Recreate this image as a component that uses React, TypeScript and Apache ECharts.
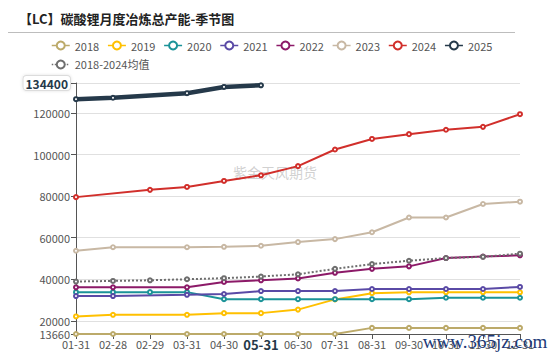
import React, { useEffect, useRef } from "react";
import * as echarts from "echarts";

const categories = ["01-31", "02-28", "02-29", "03-31", "04-30", "05-31", "06-30", "07-31", "08-31", "09-30", "10-31", "11-30", "12-31"];

const s2018 = [13660, 13660, null, 13660, 13660, 13660, 13660, 13660, 16600, 16600, 16600, 16600, 16600];
const s2019 = [22100, 22900, null, 22900, 23700, 23700, 25400, 30300, 33300, 33700, 33700, 33700, 33700];
const s2020 = [33800, 33800, 33800, 33800, 30400, 30400, 30400, 30400, 30400, 30400, 31100, 31100, 31100];
const s2021 = [31900, 31900, null, 32500, 32900, 34300, 34300, 34300, 35300, 35300, 35300, 35300, 36300];
const s2022 = [36100, 36100, null, 36100, 38700, 39500, 40400, 43100, 45000, 46200, 50200, 50900, 51500];
const s2023 = [53700, 55400, null, 55400, 55600, 56100, 57900, 59300, 62600, 69700, 69700, 76200, 77300];
const s2024 = [79500, null, 83000, 84400, 87300, 90000, 94400, 102400, 107500, 109800, 111900, 113300, 119400];
const s2025 = [126600, 127300, null, 129500, 132500, 133300, null, null, null, null, null, null, null];
const sAvg = [38900, 39200, 39500, 40000, 40500, 41300, 42400, 45000, 47300, 48900, 50200, 50800, 52300];

const yMin = 13660;
const yMax = 134400;
const highlightCategory = "05-31";

const seriesDefs = [
  { name: "2018", data: s2018, color: "#bcaa6a", width: 2 },
  { name: "2019", data: s2019, color: "#ffc000", width: 2 },
  { name: "2020", data: s2020, color: "#1b9398", width: 2 },
  { name: "2021", data: s2021, color: "#5a4aa6", width: 2 },
  { name: "2022", data: s2022, color: "#8c1a68", width: 2 },
  { name: "2023", data: s2023, color: "#c8b8a4", width: 2 },
  { name: "2024", data: s2024, color: "#d12f2b", width: 2 },
  { name: "2025", data: s2025, color: "#25394a", width: 4.5 },
  { name: "2018-2024均值", data: sAvg, color: "#6e6e6e", width: 2, dotted: true },
];

export default function App() {
  const ref = useRef<HTMLDivElement>(null);
  useEffect(() => {
    if (!ref.current) return;
    document.body.style.margin = "0";
    const chart = echarts.init(ref.current, null, { renderer: "svg" });
    const font = "'Noto Sans CJK SC', 'Noto Sans', sans-serif";
    chart.setOption({
      animation: false,
      textStyle: { fontFamily: font },
      title: {
        text: "【LC】碳酸锂月度冶炼总产能-季节图",
        left: 14,
        top: 7,
        textStyle: { fontSize: 13, fontWeight: "bold", color: "#222", fontFamily: font },
      },
      graphic: [
        {
          type: "line",
          shape: { x1: 8, y1: 32.5, x2: 515, y2: 32.5 },
          style: { stroke: "#bdbdbd", lineWidth: 1 },
        },
        {
          type: "text",
          x: 275,
          y: 172,
          style: {
            text: "紫金天风期货",
            fontSize: 14,
            fill: "rgba(170,170,170,0.55)",
            fontFamily: font,
            align: "center",
            verticalAlign: "middle",
          },
        },
        {
          type: "text",
          x: 485,
          y: 341,
          z: 100,
          style: {
            text: "www.365jz.com",
            fontSize: 19,
            fill: "#1c3a78",
            fontFamily: "'Liberation Serif', serif",
            align: "center",
            verticalAlign: "middle",
          },
        },
      ],
      legend: {
        left: 46,
        top: 35,
        width: 460,
        itemWidth: 18,
        itemHeight: 10,
        itemGap: 8,
        lineStyle: { width: 1.5 },
        itemStyle: { borderWidth: 1.2 },
        textStyle: { fontSize: 11, color: "#555", fontFamily: font },
        data: seriesDefs.map((s) => s.name),
      },
      grid: { left: 76, right: 30, top: 83, bottom: 21, containLabel: false },
      xAxis: {
        type: "category",
        data: categories,
        boundaryGap: false,
        axisLine: { lineStyle: { color: "#555" } },
        axisTick: { show: true, lineStyle: { color: "#555" } },
        axisLabel: {
          interval: 0,
          fontSize: 11,
          color: "#555",
          margin: 4,
          formatter: (v: string) => (v === highlightCategory ? "{hl|" + v + "}" : v),
          rich: {
            hl: { fontSize: 13, fontWeight: "bold", color: "#25394a", fontFamily: font },
          },
        },
        splitLine: { show: false },
      },
      yAxis: {
        type: "value",
        min: yMin,
        max: yMax,
        axisLine: { show: true, lineStyle: { color: "#555" } },
        axisTick: { show: true, lineStyle: { color: "#555" } },
        axisLabel: {
          fontSize: 11,
          color: "#555",
          margin: 6,
          formatter: (v: number) => (v === yMax ? "{mx|" + v + "}" : String(v)),
          rich: {
            mx: {
              fontSize: 12,
              fontWeight: "bold",
              color: "#25394a",
              backgroundColor: "#fff",
              borderColor: "#dcdcdc",
              borderWidth: 1,
              borderRadius: 3,
              padding: [1, 2, 1, 2],
              shadowColor: "rgba(0,0,0,0.12)",
              shadowBlur: 3,
              fontFamily: font,
            },
          },
        },
        splitLine: { show: true, lineStyle: { color: "#e0e0e0" } },
      },
      series: seriesDefs.map((s) => ({
        name: s.name,
        type: "line",
        data: s.data,
        connectNulls: true,
        symbol: "emptyCircle",
        symbolSize: 4,
        showSymbol: true,
        color: s.color,
        lineStyle: { color: s.color, width: s.width, type: (s as any).dotted ? "dotted" : "solid" },
        itemStyle: { color: s.color, borderColor: s.color, borderWidth: 1 },
        z: s.name === "2025" ? 5 : 2,
      })),
    });
    return () => chart.dispose();
  }, []);
  return <div ref={ref} style={{ width: 550, height: 355, position: "absolute", left: 0, top: 0 }} />;
}
